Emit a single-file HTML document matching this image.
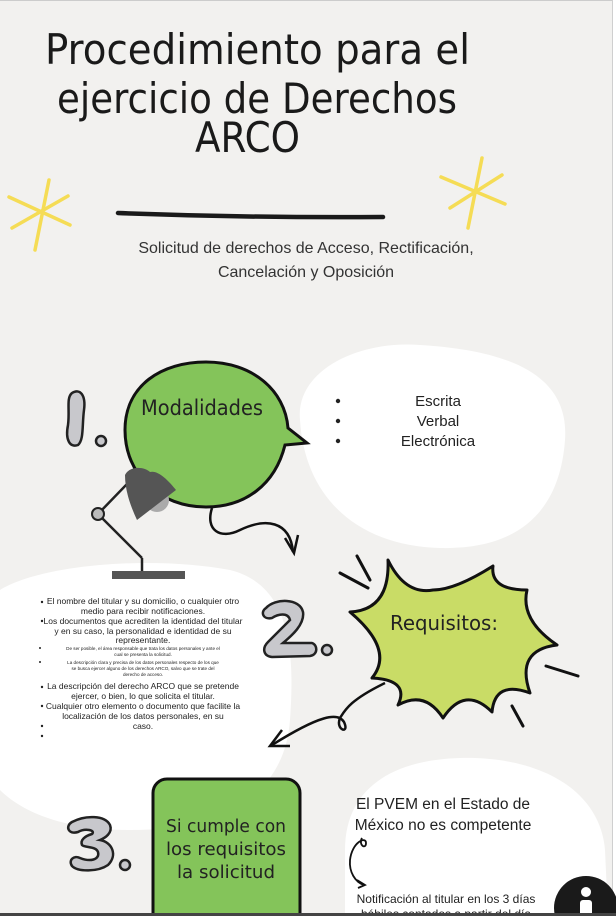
<!DOCTYPE html>
<html><head><meta charset="utf-8"><style>
html,body{margin:0;padding:0;background:#fff;}
svg{display:block;}
</style></head><body>
<svg width="616" height="916" viewBox="0 0 616 916" xmlns="http://www.w3.org/2000/svg" font-family="Liberation Sans, DejaVu Sans, sans-serif">
<rect x="0" y="0" width="612" height="916" fill="#f2f1ef"/>
<line x1="612.5" y1="0" x2="612.5" y2="916" stroke="#cfcfcf" stroke-width="1"/>
<rect x="0" y="0" width="612" height="1" fill="#ccc"/>

<!-- title -->
<g fill="#1a1a1a" font-family="DejaVu Sans, sans-serif" font-weight="normal">
<text x="45" y="64" font-size="42" textLength="425" lengthAdjust="spacingAndGlyphs">Procedimiento para el</text>
<text x="57" y="113" font-size="42" textLength="400" lengthAdjust="spacingAndGlyphs">ejercicio de Derechos</text>
<text x="195" y="152" font-size="42" textLength="105" lengthAdjust="spacingAndGlyphs">ARCO</text>
</g>
<path d="M118 213 Q250 218 383 217" stroke="#1a1a1a" stroke-width="4.5" fill="none" stroke-linecap="round"/>

<!-- stars -->
<g stroke="#f5dc55" stroke-width="3.5" stroke-linecap="round">
<line x1="49" y1="180" x2="35" y2="250"/><line x1="9" y1="197" x2="70" y2="225"/><line x1="12" y1="228" x2="68" y2="196"/>
<line x1="482" y1="158" x2="468" y2="228"/><line x1="441" y1="177" x2="505" y2="204"/><line x1="450" y1="208" x2="502" y2="175"/>
</g>

<text x="306" y="253" font-size="16" fill="#333" text-anchor="middle">Solicitud de derechos de Acceso, Rectificación,</text>
<text x="306" y="277" font-size="16" fill="#333" text-anchor="middle">Cancelación y Oposición</text>

<!-- white blobs -->
<path d="M300 420 C295 370 360 340 420 345 C500 350 570 370 565 440 C560 510 520 550 440 548 C360 546 305 500 300 420 Z" fill="#fff"/>
<path d="M0 590 C40 565 150 555 230 570 C290 585 295 650 290 720 C285 790 230 830 130 830 C60 830 20 810 0 790 Z" fill="#fff"/>
<path d="M345 850 C345 790 390 760 460 758 C540 756 600 790 605 850 L608 916 L345 916 Z" fill="#fff"/>

<!-- 1 -->
<path d="M72 393 C80 388 86 395 84 410 C82 425 84 440 78 445 C70 448 65 440 68 425 C70 410 66 398 72 393 Z" fill="#c8c8cc" stroke="#222" stroke-width="2.5"/>
<circle cx="101" cy="441" r="5" fill="#c8c8cc" stroke="#222" stroke-width="2.5"/>

<!-- green bubble -->
<path d="M125 430 C125 385 162 362 206 362 C252 362 285 390 288 428 L307 443 L285 445 C275 485 245 507 206 507 C160 507 125 475 125 430 Z" fill="#84c45a" stroke="#111" stroke-width="3"/>
<text x="141" y="415" font-size="21" fill="#222" font-family="DejaVu Sans, sans-serif" textLength="122" lengthAdjust="spacingAndGlyphs">Modalidades</text>

<!-- lamp -->
<g>
<line x1="98" y1="514" x2="128" y2="483" stroke="#222" stroke-width="2.5"/>
<line x1="98" y1="514" x2="142" y2="558" stroke="#222" stroke-width="2.5"/>
<line x1="142" y1="558" x2="142" y2="572" stroke="#222" stroke-width="2.5"/>
<circle cx="98" cy="514" r="6" fill="#bbb" stroke="#222" stroke-width="2"/>
<rect x="112" y="571" width="73" height="8" fill="#555"/>
<circle cx="157" cy="500" r="12" fill="#aaa"/>
<path d="M125 475 C130 465 145 467 150 472 C158 470 168 480 176 490 L137 520 C130 505 125 490 125 475 Z" fill="#555"/>
</g>
<path d="M212 508 C205 530 220 540 240 530 C265 518 290 520 293 552" stroke="#111" stroke-width="2.5" fill="none"/>
<path d="M285 538 L294 553 L298 535" stroke="#111" stroke-width="2.5" fill="none"/>

<!-- list 1 -->
<g font-size="15" fill="#222">
<circle cx="338" cy="401" r="2.2"/><circle cx="338" cy="421" r="2.2"/><circle cx="338" cy="441" r="2.2"/>
<text x="438" y="406" text-anchor="middle">Escrita</text>
<text x="438" y="426" text-anchor="middle">Verbal</text>
<text x="438" y="446" text-anchor="middle">Electrónica</text>
</g>

<!-- left list -->
<g fill="#222" text-anchor="middle">
<g font-size="8.5">
<text x="143" y="604">El nombre del titular y su domicilio, o cualquier otro</text>
<text x="143" y="614">medio para recibir notificaciones.</text>
<text x="143" y="624">Los documentos que acrediten la identidad del titular</text>
<text x="143" y="634">y en su caso, la personalidad e identidad de su</text>
<text x="143" y="643">representante.</text>
</g>
<g font-size="4.6">
<text x="143" y="650">De ser posible, el área responsable que trata los datos personales y ante el</text>
<text x="143" y="656">cual se presenta la solicitud.</text>
<text x="143" y="664">La descripción clara y precisa de los datos personales respecto de los que</text>
<text x="143" y="670">se busca ejercer alguno de los derechos ARCO, salvo que se trate del</text>
<text x="143" y="676">derecho de acceso.</text>
</g>
<g font-size="8.5">
<text x="143" y="689">La descripción del derecho ARCO que se pretende</text>
<text x="143" y="699">ejercer, o bien, lo que solicita el titular.</text>
<text x="143" y="709">Cualquier otro elemento o documento que facilite la</text>
<text x="143" y="719">localización de los datos personales, en su</text>
<text x="143" y="729">caso.</text>
</g>
<circle cx="42" cy="602" r="1.2"/><circle cx="42" cy="621" r="1.2"/><circle cx="40" cy="648" r="1"/><circle cx="40" cy="662" r="1"/>
<circle cx="42" cy="687" r="1.2"/><circle cx="42" cy="706" r="1.2"/><circle cx="42" cy="726" r="1.2"/><circle cx="42" cy="736" r="1.2"/>
</g>

<!-- 2 -->
<path d="M266 608 C275 598 300 598 303 612 C305 625 290 637 283 643 L312 643 C318 645 318 655 310 656 L272 657 C263 656 262 648 268 642 L290 620 C288 612 278 614 272 618 C263 620 260 612 266 608 Z" fill="#c8c8cc" stroke="#222" stroke-width="2.5"/>
<circle cx="327" cy="650" r="5" fill="#c8c8cc" stroke="#222" stroke-width="2.5"/>

<!-- starburst -->
<path d="M388 560 Q405 595 433 590 Q455 590 493 566 Q490 590 527 590 Q520 620 557 645 Q515 650 530 693 Q495 680 492 712 Q465 685 443 718 Q425 690 398 705 Q410 680 372 678 Q395 650 350 612 Q390 610 388 560 Z" fill="#c9dc66" stroke="#111" stroke-width="3" stroke-linejoin="round"/>
<g stroke="#111" stroke-width="3" stroke-linecap="round">
<line x1="340" y1="573" x2="368" y2="588"/><line x1="357" y1="556" x2="370" y2="580"/>
<line x1="546" y1="666" x2="578" y2="676"/><line x1="512" y1="706" x2="523" y2="726"/>
</g>
<text x="390" y="630" font-size="20" fill="#222" font-family="DejaVu Sans, sans-serif" textLength="108" lengthAdjust="spacingAndGlyphs">Requisitos:</text>
<path d="M385 683 C350 700 345 710 340 718 C335 730 350 735 344 722 C338 712 320 715 272 745" stroke="#111" stroke-width="2.5" fill="none"/>
<path d="M282 730 L270 746 L290 746" stroke="#111" stroke-width="2.5" fill="none"/>

<!-- 3 -->
<path d="M72 822 C85 815 105 815 110 825 C113 833 105 838 100 840 C112 842 118 855 108 865 C98 872 78 872 72 866 C68 860 74 855 80 858 C90 862 100 860 98 852 C96 846 85 848 82 845 C80 840 85 836 92 834 C96 830 85 828 78 832 C68 835 65 826 72 822 Z" fill="#c8c8cc" stroke="#222" stroke-width="2.5"/>
<circle cx="125" cy="865" r="5" fill="#c8c8cc" stroke="#222" stroke-width="2.5"/>

<!-- green box -->
<rect x="153" y="779" width="147" height="150" rx="14" fill="#84c45a" stroke="#111" stroke-width="3"/>
<g font-size="18" fill="#222" text-anchor="middle" font-family="DejaVu Sans, sans-serif">
<text x="226" y="832" textLength="120" lengthAdjust="spacingAndGlyphs">Si cumple con</text>
<text x="226" y="855" textLength="120" lengthAdjust="spacingAndGlyphs">los requisitos</text>
<text x="226" y="878" textLength="98" lengthAdjust="spacingAndGlyphs">la solicitud</text>
</g>

<!-- PVEM -->
<text x="443" y="809" font-size="15.5" fill="#222" text-anchor="middle">El PVEM en el Estado de</text>
<text x="443" y="830" font-size="15.5" fill="#222" text-anchor="middle">México no es competente</text>
<path d="M362 838 C358 845 366 850 366 843 C366 836 352 842 350 860 C349 872 355 882 364 885" stroke="#111" stroke-width="1.8" fill="none"/>
<path d="M357 880 L365 885 L358 888" stroke="#111" stroke-width="1.8" fill="none"/>
<text x="446" y="903" font-size="12" fill="#222" text-anchor="middle">Notificación al titular en los 3 días</text>
<text x="446" y="918" font-size="12" fill="#222" text-anchor="middle">hábiles contados a partir del día</text>

<!-- info icon -->
<circle cx="586" cy="908" r="32" fill="#1a1a1a"/>
<circle cx="586" cy="892" r="5" fill="#fff"/>
<rect x="580" y="900" width="12" height="16" rx="3" fill="#fff"/>

<rect x="0" y="913" width="616" height="3" fill="#444"/>
</svg>
</body></html>
